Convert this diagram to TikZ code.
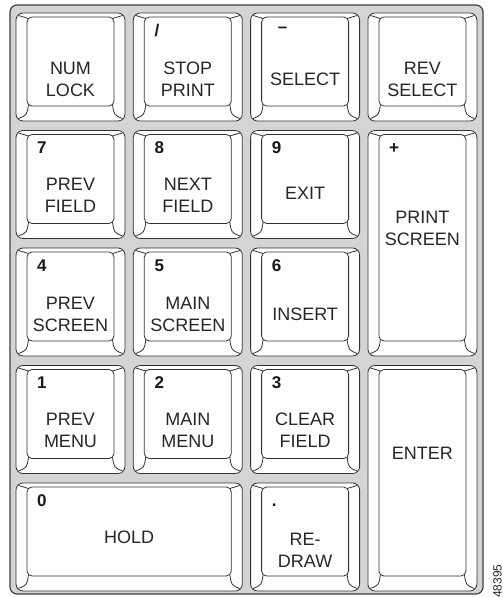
\documentclass[tikz,border=0pt]{standalone}
\usepackage{fontspec}
\setmainfont{Liberation Sans}

\begin{document}
\begin{tikzpicture}[x=1pt,y=-1pt,
        keyline/.style={draw=black!80,line width=.8pt},
        keylab/.style={font=\fontsize{18}{22}\selectfont,text=black!85,align=center,inner sep=0pt},
        keynum/.style={font=\fontsize{17}{20}\selectfont\bfseries,text=black!90,anchor=base west,inner sep=0pt}]
        \useasboundingbox (0,0) rectangle (503,597);
        \draw[fill=black!17,draw=black!75,line width=1.2pt,rounded corners=7pt] (10,5) rectangle (483,594);

        \foreach \c/\r/\sc/\sr/\knum/\klab/\kdy in {
            0/0/1/1/{}/{NUM\\LOCK}/66,
            1/0/1/1/{/}/{STOP\\PRINT}/66,
            2/0/1/1/{\raisebox{4pt}{\kern6pt--}}/{SELECT}/66,
            3/0/1/1/{}/{REV\\SELECT}/66,
            0/1/1/1/7/{PREV\\FIELD}/65,
            1/1/1/1/8/{NEXT\\FIELD}/65,
            2/1/1/1/9/{EXIT}/63,
            3/1/1/2/+/{PRINT\\SCREEN}/98,
            0/2/1/1/4/{PREV\\SCREEN}/66,
            1/2/1/1/5/{MAIN\\SCREEN}/66,
            2/2/1/1/6/{INSERT}/66,
            0/3/1/1/1/{PREV\\MENU}/65,
            1/3/1/1/2/{MAIN\\MENU}/65,
            2/3/1/1/3/{CLEAR\\FIELD}/65,
            3/3/1/2/{}/{ENTER}/88,
            0/4/2/1/0/{HOLD}/54,
            2/4/1/1/./{RE-\\DRAW}/67}
        {
            \pgfmathsetmacro\kl{16+117.3*\c}
            \pgfmathsetmacro\kt{13+117.5*\r}
            \pgfmathsetmacro\kr{\kl+109+117.3*(\sc-1)}
            \pgfmathsetmacro\kb{\kt+108+117.5*(\sr-1)}
            \draw[keyline,fill=white,rounded corners=7pt] (\kl,\kt) rectangle (\kr,\kb);
            \draw[keyline,rounded corners=5pt] (\kl+11,\kt+4) rectangle (\kr-11,\kb-15);
            \draw[keyline] (\kl+2.5,\kt+2.5) -- (\kl+12.5,\kt+5.5);
            \draw[keyline] (\kr-2.5,\kt+2.5) -- (\kr-12.5,\kt+5.5);
            \draw[keyline] (\kl+12.5,\kb-16.5) .. controls (\kl+11,\kb-6) .. (\kl+2.5,\kb-2.5);
            \draw[keyline] (\kr-12.5,\kb-16.5) .. controls (\kr-11,\kb-6) .. (\kr-2.5,\kb-2.5);
            \node[keynum] (num-\c-\r) at (\kl+21,\kt+23) {\knum};
            \node[keylab] (lab-\c-\r) at ({(\kl+\kr)/2},\kt+\kdy) {\klab};
        }

        \node[font=\fontsize{12}{12}\selectfont,text=black!85,rotate=90,anchor=south west,inner sep=0pt] (figid) at (502,598) {48395};
    \end{tikzpicture}
\end{document}
